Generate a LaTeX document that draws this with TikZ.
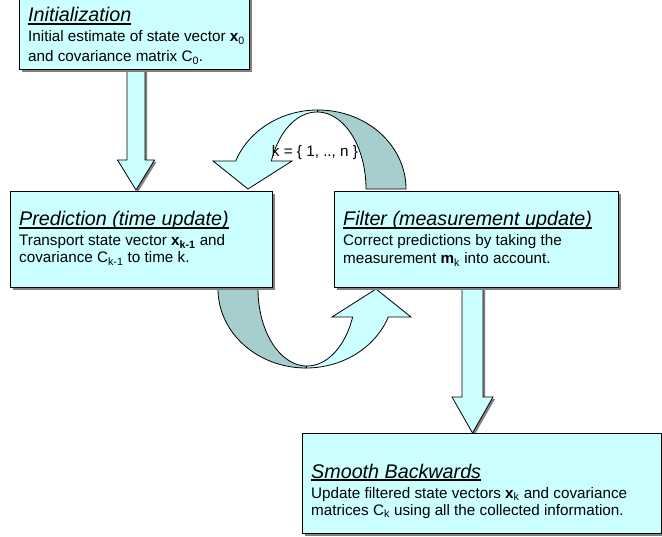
\documentclass[tikz,border=0pt]{standalone}
\usepackage{fontspec}
\setmainfont{Liberation Sans}
\usetikzlibrary{shadows}
\definecolor{lite}{RGB}{204,255,255}
\definecolor{darkteal}{RGB}{166,206,206}
\definecolor{shad}{RGB}{128,128,128}
\newcommand\tul[1]{\setbox0\hbox{#1}\rlap{\rule[-2.6bp]{\wd0}{1.2bp}}\box0}
\newcommand\ttlfont{\fontsize{19.8}{22}\selectfont\itshape}
\newcommand\bdyfont{\fontsize{15.3}{17}\selectfont}
\newcommand\curvedarrowshape{%
  \draw[darr] plot[domain=270:360,samples=50] ({318+88*cos(\x)},{189+79*sin(\x)})
     -- plot[domain=360:270,samples=50] ({317+49*cos(\x)},{189+77*sin(\x)}) -- cycle;
  \draw[arr] (213,161) -- plot[domain=200.7:270,samples=50] ({318+88*cos(\x)},{189+79*sin(\x)})
     -- plot[domain=270:201.3,samples=50] ({317+49*cos(\x)},{189+77*sin(\x)})
     -- (292,161) -- (248,189) -- cycle;
}
\begin{document}
\begin{tikzpicture}[x=1bp,y=-1bp,
  box/.style={draw=black, line width=0.9bp, fill=lite, inner sep=0pt, outer sep=0pt,
    drop shadow={shadow xshift=3bp, shadow yshift=-3bp, fill=shad, opacity=1}},
  txt/.style={anchor=base west, inner sep=0pt, font=\bdyfont},
  ttxt/.style={anchor=base west, inner sep=0pt, font=\ttlfont},
  arr/.style={draw=black, line width=0.8bp, fill=lite, line join=miter},
  sarr/.style={arr, drop shadow={shadow xshift=2bp, shadow yshift=-2bp, fill=shad, opacity=1}},
  darr/.style={draw=black, line width=0.8bp, fill=darkteal, line join=miter},
]
\useasboundingbox (0,0) rectangle (662,537);

% box positions (coordinates only, boxes drawn later)
\coordinate (initc) at (134,29.5);
\coordinate (predc) at (141,239);
\coordinate (filtc) at (476,239);
\coordinate (smthc) at (481.5,483);

% curved arrows
\curvedarrowshape
\begin{scope}[rotate around={180:(312,239)}]
\curvedarrowshape
\end{scope}

% straight block arrows
\draw[sarr] (127,69) -- (127,160) -- (117.5,160) -- (136,190) -- (154.5,160) -- (145,160) -- (145,69) -- cycle;
\draw[sarr] (462,287) -- (462,397) -- (452,397) -- (472.5,433) -- (493,397) -- (483,397) -- (483,287) -- cycle;

% boxes
\node[box, minimum width=230bp, minimum height=79bp] (init) at (initc) {};
\node[box, minimum width=262bp, minimum height=96bp] (pred) at (predc) {};
\node[box, minimum width=284bp, minimum height=96bp] (filt) at (filtc) {};
\node[box, minimum width=359bp, minimum height=100bp] (smth) at (smthc) {};

% texts
\node[ttxt] (initT) at (28,22) {\tul{Initialization}};
\node[txt] (initA) at (28,42) {Initial estimate of state vector \textbf{x}\textsubscript{0}};
\node[txt] (initB) at (28,62) {and covariance matrix C\textsubscript{0}.};

\node[ttxt] (predT) at (19,226) {\tul{Prediction (time update)}};
\node[txt] (predA) at (19,246) {Transport state vector \textbf{x\textsubscript{k-1}} and};
\node[txt] (predB) at (19,263) {covariance C\textsubscript{k-1} to time k.};

\node[ttxt] (filtT) at (343,226) {\tul{Filter (measurement update)}};
\node[txt] (filtA) at (343,246) {Correct predictions by taking the};
\node[txt] (filtB) at (343,264) {measurement \textbf{m}\textsubscript{k} into account.};

\node[ttxt] (smthT) at (311,478) {\tul{Smooth Backwards}};
\node[txt] (smthA) at (311,498) {Update filtered state vectors \textbf{x}\textsubscript{k} and covariance};
\node[txt] (smthB) at (311,515) {matrices C\textsubscript{k} using all the collected information.};

\node[anchor=base, inner sep=0pt, font=\bdyfont] (klab) at (315,157) {k = \{ 1, .., n \}};
\end{tikzpicture}
\end{document}
